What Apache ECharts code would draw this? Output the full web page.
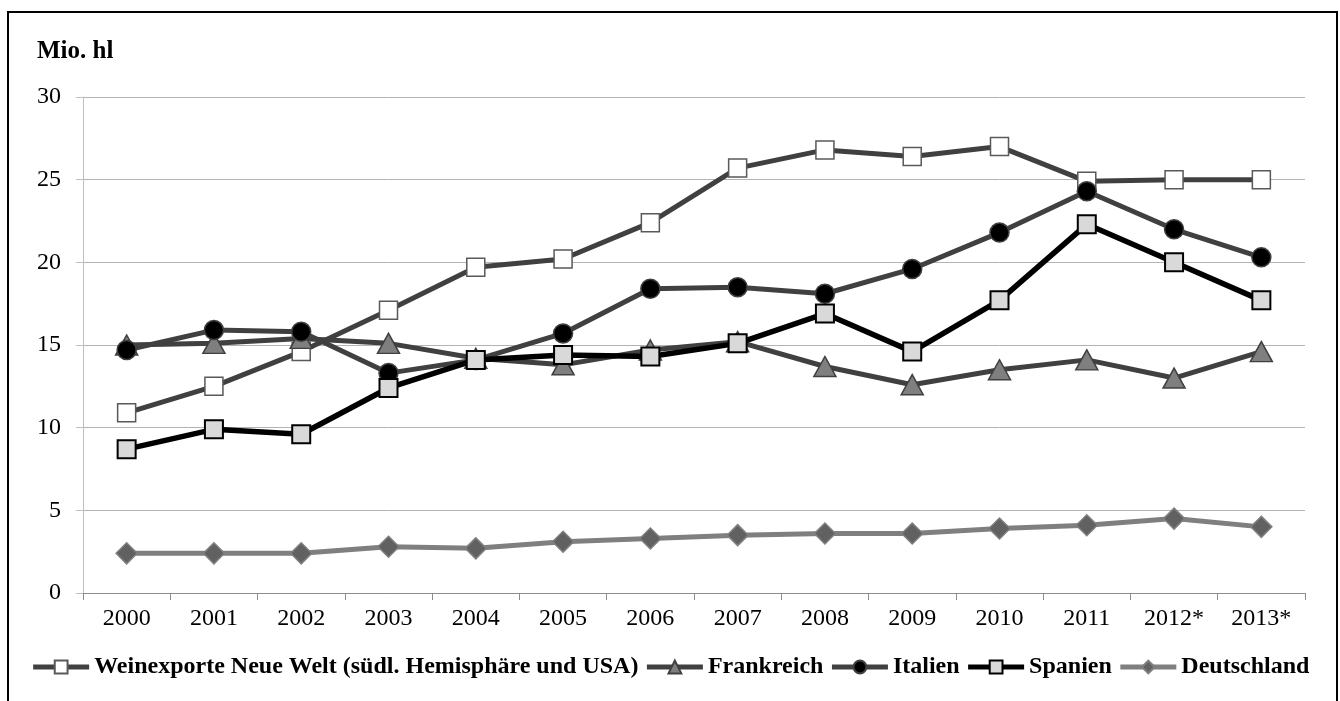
<!DOCTYPE html>
<html>
<head>
<meta charset="utf-8">
<script src="https://cdn.jsdelivr.net/npm/echarts@6/dist/echarts.min.js"></script>
<style>
  html, body { margin: 0; padding: 0; background: #fff; }
  #chart { width: 1340px; height: 701px; }
</style>
</head>
<body>
<div id="chart"></div>
<script>
// Wine exports, million hectolitres
const years = ['2000', '2001', '2002', '2003', '2004', '2005', '2006', '2007', '2008', '2009', '2010', '2011', '2012*', '2013*'];
const neueWelt    = [10.9, 12.5, 14.6, 17.1, 19.7, 20.2, 22.4, 25.7, 26.8, 26.4, 27.0, 24.9, 25.0, 25.0];
const frankreich  = [15.0, 15.1, 15.4, 15.1, 14.2, 13.8, 14.7, 15.2, 13.7, 12.6, 13.5, 14.1, 13.0, 14.6];
const italien     = [14.7, 15.9, 15.8, 13.3, 14.1, 15.7, 18.4, 18.5, 18.1, 19.6, 21.8, 24.3, 22.0, 20.3];
const spanien     = [8.7, 9.9, 9.6, 12.4, 14.1, 14.4, 14.3, 15.1, 16.9, 14.6, 17.7, 22.3, 20.0, 17.7];
const deutschland = [2.4, 2.4, 2.4, 2.8, 2.7, 3.1, 3.3, 3.5, 3.6, 3.6, 3.9, 4.1, 4.5, 4.0];
const seriesNames = ['Weinexporte Neue Welt (südl. Hemisphäre und USA)', 'Frankreich', 'Italien', 'Spanien', 'Deutschland'];
const yTicks = { min: 0, max: 30, step: 5 };

const serif = '"Liberation Serif", "DejaVu Serif", serif';
const chart = echarts.init(document.getElementById('chart'), null, { renderer: 'canvas' });

function lineSeries(name, data, z, symbol, size, lineColor, fill, border, borderW, lineW) {
  return {
    name: name,
    type: 'line',
    data: data,
    z: z,
    symbol: symbol,
    symbolSize: size,
    showAllSymbol: true,
    smooth: false,
    lineStyle: { color: lineColor, width: lineW },
    itemStyle: { color: fill, borderColor: border, borderWidth: borderW },
    emphasis: { disabled: true },
    animation: false
  };
}

chart.setOption({
  animation: false,
  backgroundColor: '#fff',
  textStyle: { fontFamily: serif },
  grid: { left: 83, right: 35, top: 97, bottom: 108, containLabel: false },
  graphic: [
    {
      type: 'rect',
      shape: { x: 8, y: 12, width: 1329, height: 700 },
      style: { fill: null, stroke: '#000', lineWidth: 2 },
      silent: true
    },
    {
      type: 'text',
      left: 37,
      top: 39,
      style: { text: 'Mio. hl', font: 'bold 25px ' + serif, fill: '#000' },
      silent: true
    }
  ],
  legend: {
    top: 650,
    left: 'center',
    itemWidth: 56,
    itemHeight: 16,
    itemGap: 6,
    lineStyle: { width: 5 },
    textStyle: { fontFamily: serif, fontSize: 24, fontWeight: 'bold', color: '#000' },
    data: seriesNames
  },
  xAxis: {
    type: 'category',
    data: years,
    boundaryGap: true,
    axisLine: { lineStyle: { color: '#8c8c8c', width: 1 } },
    axisTick: { show: true, length: 7, alignWithLabel: false, lineStyle: { color: '#8c8c8c' } },
    axisLabel: { fontFamily: serif, fontSize: 24, color: '#000', margin: 14 },
    splitLine: { show: false }
  },
  yAxis: {
    type: 'value',
    min: yTicks.min,
    max: yTicks.max,
    interval: yTicks.step,
    axisLine: { show: true, lineStyle: { color: '#bfbfbf', width: 1 } },
    axisTick: { show: true, length: 7, lineStyle: { color: '#bfbfbf' } },
    axisLabel: { fontFamily: serif, fontSize: 24, color: '#000', margin: 22 },
    splitLine: { show: true, lineStyle: { color: '#b3b3b3', width: 1 } }
  },
  series: [
    lineSeries(seriesNames[0], neueWelt, 2, 'rect', 18, '#404040', '#ffffff', '#595959', 1.5, 5),
    lineSeries(seriesNames[1], frankreich, 3, 'triangle', [22, 20], '#404040', '#7f7f7f', '#404040', 1.5, 5),
    lineSeries(seriesNames[2], italien, 4, 'circle', 19, '#404040', '#000000', '#404040', 1.5, 5),
    lineSeries(seriesNames[3], spanien, 5, 'rect', 18, '#000000', '#d9d9d9', '#000000', 2, 5.5),
    lineSeries(seriesNames[4], deutschland, 6, 'diamond', 21, '#7f7f7f', '#616161', '#7f7f7f', 1.5, 5)
  ]
});
</script>
</body>
</html>
